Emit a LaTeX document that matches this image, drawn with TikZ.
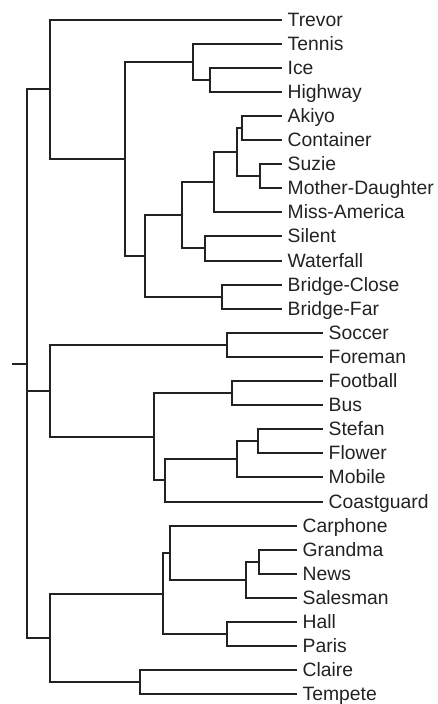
\documentclass[tikz,border=0pt]{standalone}
\usepackage{fontspec}
\setmainfont{Liberation Sans}
\usetikzlibrary{calc}
\definecolor{ink}{HTML}{222222}
\tikzset{
  branch/.style={draw=ink,line width=2bp},
  leaf/.style={anchor=west,inner xsep=5.5bp,inner ysep=0pt,text height=12.5pt,text depth=0pt,
    text=ink,font=\fontsize{19.4}{23}\selectfont}
}
% leaf: name, index, end x, label
\newcommand\leafnode[4]{%
  \coordinate (#1) at (#3,{round(19.5+24.1*#2)});
  \node[leaf] (#1-lbl) at (#1) {#4};}
% inner node: name, x, child a, child b
\newcommand\joinat[4]{%
  \path let \p1=(#3), \p2=(#4) in ({#2bp},{round((\y1+\y2)/2/1.00375)*1.00375pt}) coordinate (#1);
  \draw[branch] (#1) |- (#3);
  \draw[branch] (#1) |- (#4);}
\begin{document}
\begin{tikzpicture}[x=1bp,y=-1bp]
\useasboundingbox (0,0) rectangle (438,704);
% top group
\leafnode{trevor}{0}{282}{Trevor}
\leafnode{tennis}{1}{282}{Tennis}
\leafnode{ice}{2}{282}{Ice}
\leafnode{highway}{3}{282}{Highway}
\leafnode{akiyo}{4}{282}{Akiyo}
\leafnode{container}{5}{282}{Container}
\leafnode{suzie}{6}{282}{Suzie}
\leafnode{md}{7}{282}{Mother-Daughter}
\leafnode{missam}{8}{282}{Miss-America}
\leafnode{silent}{9}{282}{Silent}
\leafnode{waterfall}{10}{282}{Waterfall}
\leafnode{bclose}{11}{282}{Bridge-Close}
\leafnode{bfar}{12}{282}{Bridge-Far}
% middle group
\leafnode{soccer}{13}{323}{Soccer}
\leafnode{foreman}{14}{323}{Foreman}
\leafnode{football}{15}{323}{Football}
\leafnode{bus}{16}{323}{Bus}
\leafnode{stefan}{17}{323}{Stefan}
\leafnode{flower}{18}{323}{Flower}
\leafnode{mobile}{19}{323}{Mobile}
\leafnode{coast}{20}{323}{Coastguard}
% bottom group
\leafnode{carphone}{21}{297}{Carphone}
\leafnode{grandma}{22}{297}{Grandma}
\leafnode{news}{23}{297}{News}
\leafnode{salesman}{24}{297}{Salesman}
\leafnode{hall}{25}{297}{Hall}
\leafnode{paris}{26}{297}{Paris}
\leafnode{claire}{27}{297}{Claire}
\leafnode{tempete}{28}{297}{Tempete}
% top tree
\joinat{nih}{210}{ice}{highway}
\joinat{ntih}{193}{tennis}{nih}
\joinat{nac}{242}{akiyo}{container}
\joinat{nsm}{260}{suzie}{md}
\joinat{nacsm}{237}{nac}{nsm}
\joinat{nfour}{214}{nacsm}{missam}
\joinat{nsw}{205}{silent}{waterfall}
\joinat{nfive}{182}{nfour}{nsw}
\joinat{nb}{222}{bclose}{bfar}
\joinat{nsix}{145}{nfive}{nb}
\joinat{nA}{125}{ntih}{nsix}
\joinat{ntop}{50}{trevor}{nA}
% middle tree
\joinat{nsf}{227}{soccer}{foreman}
\joinat{nfb}{232}{football}{bus}
\joinat{nstf}{258}{stefan}{flower}
\joinat{nsfm}{237}{nstf}{mobile}
\joinat{nsfmc}{165}{nsfm}{coast}
\joinat{nfbs}{154}{nfb}{nsfmc}
\joinat{nmid}{50}{nsf}{nfbs}
% bottom tree
\joinat{ngn}{259}{grandma}{news}
\joinat{ngns}{246}{ngn}{salesman}
\joinat{ncgns}{170}{carphone}{ngns}
\joinat{nhp}{227}{hall}{paris}
\joinat{ncp}{163}{ncgns}{nhp}
\joinat{nct}{140}{claire}{tempete}
\joinat{nbot}{50}{ncp}{nct}
% root
\joinat{root}{27}{ntop}{nbot}
\draw[branch] (root) |- (nmid);
\coordinate (stub) at (12,0 |- root);
\draw[branch] (stub) -- (root);
\end{tikzpicture}
\end{document}
